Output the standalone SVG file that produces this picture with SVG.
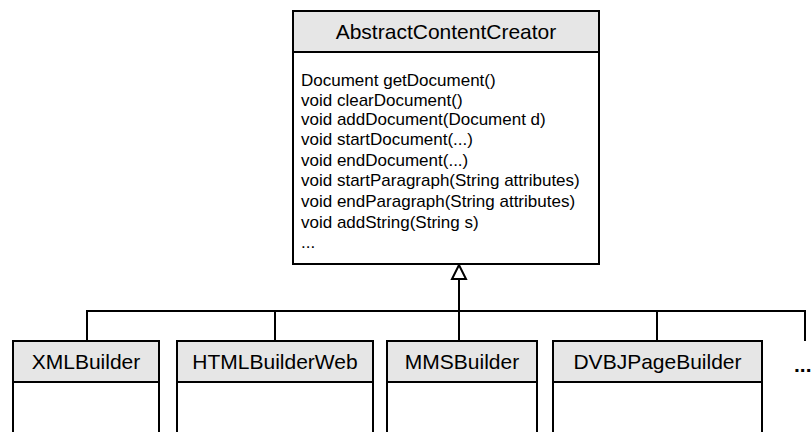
<svg xmlns="http://www.w3.org/2000/svg" width="812" height="432" viewBox="0 0 812 432">
<style>
.box{fill:#ffffff;stroke:#000;stroke-width:2}
.hdr{fill:#e6e6e6;stroke:#000;stroke-width:2}
.ttl{font-family:"Liberation Sans",Arial,sans-serif;font-size:21px;fill:#000;text-anchor:middle}
.mth{font-family:"Liberation Sans",Arial,sans-serif;font-size:17px;fill:#000}
.ln{fill:none;stroke:#000;stroke-width:2}
</style>
<rect width="812" height="432" fill="#ffffff"/>
<g id="connectors">
<polyline class="ln" points="87,341 87,311 805,311 805,341"/>
<line class="ln" x1="275" y1="311" x2="275" y2="341"/>
<line class="ln" x1="459" y1="279" x2="459" y2="341"/>
<line class="ln" x1="657" y1="311" x2="657" y2="341"/>
<polygon points="459,265 452,279 466,279" fill="#fff" stroke="#000" stroke-width="2"/>
</g>
<g id="AbstractContentCreator">
<rect class="box" x="293" y="11" width="306" height="253"/>
<rect class="hdr" x="293" y="11" width="306" height="41"/>
<text class="ttl" x="446" y="39">AbstractContentCreator</text>
<text class="mth" x="301" y="86">Document getDocument()</text>
<text class="mth" x="301" y="105.5">void clearDocument()</text>
<text class="mth" x="301" y="125">void addDocument(Document d)</text>
<text class="mth" x="301" y="145">void startDocument(...)</text>
<text class="mth" x="301" y="165.5">void endDocument(...)</text>
<text class="mth" x="301" y="186">void startParagraph(String attributes)</text>
<text class="mth" x="301" y="207">void endParagraph(String attributes)</text>
<text class="mth" x="301" y="228">void addString(String s)</text>
<text class="mth" x="301" y="248">...</text>
</g>
<g id="XMLBuilder">
<rect class="box" x="13" y="341" width="146" height="100"/>
<rect class="hdr" x="13" y="341" width="146" height="41"/>
<text class="ttl" x="86" y="369">XMLBuilder</text>
</g>
<g id="HTMLBuilderWeb">
<rect class="box" x="177" y="341" width="196" height="100"/>
<rect class="hdr" x="177" y="341" width="196" height="41"/>
<text class="ttl" x="275" y="369">HTMLBuilderWeb</text>
</g>
<g id="MMSBuilder">
<rect class="box" x="387" y="341" width="150" height="100"/>
<rect class="hdr" x="387" y="341" width="150" height="41"/>
<text class="ttl" x="462" y="369">MMSBuilder</text>
</g>
<g id="DVBJPageBuilder">
<rect class="box" x="553" y="341" width="209" height="100"/>
<rect class="hdr" x="553" y="341" width="209" height="41"/>
<text class="ttl" x="657.5" y="369">DVBJPageBuilder</text>
</g>
<g id="more">
<text x="794" y="372" font-family="Liberation Sans,Arial,sans-serif" font-size="21" font-weight="bold" fill="#000">...</text>
</g>
</svg>
